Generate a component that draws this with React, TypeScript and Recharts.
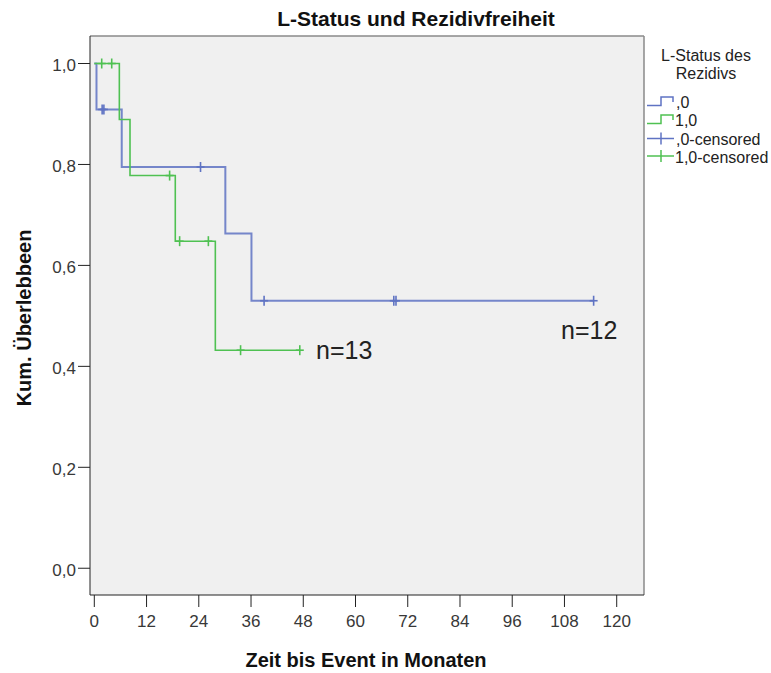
import React from 'react';
import {
  ComposedChart,
  Line,
  Scatter,
  XAxis,
  YAxis,
  CartesianGrid,
  ReferenceLine,
} from 'recharts';

// Kaplan-Meier steps (time in months, cumulative survival)
const group0Times = [0, 0.5, 6.3, 30.1, 36.1, 114.7];
const group0Surv = [1, 0.909, 0.795, 0.663, 0.53, 0.53];
const group0Censored = [1.8, 2.2, 24.4, 39.0, 68.8, 69.3, 114.7];

const group1Times = [0, 5.75, 8.2, 18.6, 27.8, 47.2];
const group1Surv = [1, 0.889, 0.778, 0.648, 0.432, 0.432];
const group1Censored = [1.7, 4.0, 17.3, 19.6, 26.2, 33.6, 47.2];

const xTicks = [0, 12, 24, 36, 48, 60, 72, 84, 96, 108, 120];
const yTicks = [0, 0.2, 0.4, 0.6, 0.8, 1.0];

const X_MIN = -0.99;
const X_MAX = 126.27;
const Y_MIN = -0.053;
const Y_MAX = 1.0545;

const BLUE = '#5f73c3';
const GREEN = '#4fc152';
const FONT = '"Liberation Sans", Arial, sans-serif';

const toSteps = (times: number[], surv: number[]) =>
  times.map((t, i) => ({ t, s: surv[i] }));

const survAt = (times: number[], surv: number[], t: number) => {
  let v = surv[0];
  times.forEach((tt, i) => {
    if (tt <= t) v = surv[i];
  });
  return v;
};

const toCensored = (cens: number[], times: number[], surv: number[]) =>
  cens.map((t) => ({ t, s: survAt(times, surv, t) }));

const steps0 = toSteps(group0Times, group0Surv);
const steps1 = toSteps(group1Times, group1Surv);
const cens0 = toCensored(group0Censored, group0Times, group0Surv);
const cens1 = toCensored(group1Censored, group1Times, group1Surv);

const plusShape = (color: string) => (props: any) => {
  const { cx, cy } = props;
  return (
    <g>
      <line x1={cx} y1={cy - 5} x2={cx} y2={cy + 5} stroke={color} strokeWidth={1.6} />
      <line x1={cx - 4} y1={cy} x2={cx + 4} y2={cy} stroke={color} strokeWidth={1.6} />
    </g>
  );
};

const fmt = (v: number) => v.toFixed(1).replace('.', ',');

const XTick = (props: any) => {
  const { x, y, payload } = props;
  return (
    <text x={x} y={y + 18} textAnchor="middle" fontSize={17} fill="#383838" fontFamily={FONT}>
      {payload.value}
    </text>
  );
};

const YTick = (props: any) => {
  const { x, y, payload } = props;
  return (
    <text x={x} y={y + 7.5} textAnchor="end" fontSize={17} fill="#383838" fontFamily={FONT}>
      {fmt(payload.value)}
    </text>
  );
};

export default function App() {
  return (
    <div style={{ position: 'absolute', left: 0, top: 0, width: 771, height: 673, background: '#fff', fontFamily: FONT }}>
      <ComposedChart
        width={771}
        height={673}
        margin={{ top: 36, right: 127, bottom: 0, left: 0 }}
        style={{ fontFamily: FONT }}
      >
        <CartesianGrid fill="#f0f0f0" horizontal={false} vertical={false} />
        <XAxis
          type="number"
          dataKey="t"
          domain={[X_MIN, X_MAX]}
          ticks={xTicks}
          allowDataOverflow
          height={78}
          tickSize={12}
          stroke="#222"
          tick={<XTick />}
        />
        <YAxis
          type="number"
          domain={[Y_MIN, Y_MAX]}
          ticks={yTicks}
          allowDataOverflow
          width={90}
          tickSize={12}
          stroke="#222"
          tick={<YTick />}
        />
        <ReferenceLine y={Y_MAX} stroke="#8a8a8a" strokeWidth={1.5} />
        <ReferenceLine x={X_MAX} stroke="#8a8a8a" strokeWidth={1.5} />
        <Line
          data={steps0}
          dataKey="s"
          type="stepAfter"
          stroke={BLUE}
          strokeWidth={2}
          strokeOpacity={0.85}
          dot={false}
          isAnimationActive={false}
        />
        <Line
          data={steps1}
          dataKey="s"
          type="stepAfter"
          stroke={GREEN}
          strokeWidth={1.6}
          dot={false}
          isAnimationActive={false}
        />
        <Scatter data={cens0} dataKey="s" shape={plusShape(BLUE)} isAnimationActive={false} />
        <Scatter data={cens1} dataKey="s" shape={plusShape(GREEN)} isAnimationActive={false} />
      </ComposedChart>

      <svg
        width={771}
        height={673}
        style={{ position: 'absolute', left: 0, top: 0, pointerEvents: 'none', fontFamily: FONT }}
      >
        <text x={416} y={26} textAnchor="middle" fontSize={21} fontWeight="bold" fill="#111">
          L-Status und Rezidivfreiheit
        </text>
        <text x={366} y={667} textAnchor="middle" fontSize={20} fontWeight="bold" fill="#111">
          Zeit bis Event in Monaten
        </text>
        <text
          x={31}
          y={318}
          textAnchor="middle"
          fontSize={20}
          fontWeight="bold"
          fill="#111"
          transform="rotate(-90 31 318)"
        >
          Kum. Überlebbeen
        </text>

        <text x={316} y={359} fontSize={25} fill="#222">n=13</text>
        <text x={561} y={339} fontSize={25} fill="#222">n=12</text>

        {/* legend */}
        <text x={706} y={61} textAnchor="middle" fontSize={16} fill="#222">L-Status des</text>
        <text x={706} y={79} textAnchor="middle" fontSize={16} fill="#222">Rezidivs</text>

        <path d="M647 105.5 H661 V97 H673 V102" fill="none" stroke={BLUE} strokeWidth={1.5} />
        <text x={676} y={108} fontSize={16} fill="#222">,0</text>

        <path d="M647 123.5 H661 V115 H673 V120" fill="none" stroke={GREEN} strokeWidth={1.5} />
        <text x={675} y={126} fontSize={16} fill="#222">1,0</text>

        <line x1={647} y1={138.5} x2={674} y2={138.5} stroke={BLUE} strokeWidth={1.5} />
        <line x1={661} y1={132.5} x2={661} y2={144.5} stroke={BLUE} strokeWidth={1.5} />
        <text x={676} y={145} fontSize={16} fill="#222">,0-censored</text>

        <line x1={647} y1={156} x2={674} y2={156} stroke={GREEN} strokeWidth={1.5} />
        <line x1={661} y1={150} x2={661} y2={162} stroke={GREEN} strokeWidth={1.5} />
        <text x={675} y={163} fontSize={16} fill="#222">1,0-censored</text>
      </svg>
    </div>
  );
}
